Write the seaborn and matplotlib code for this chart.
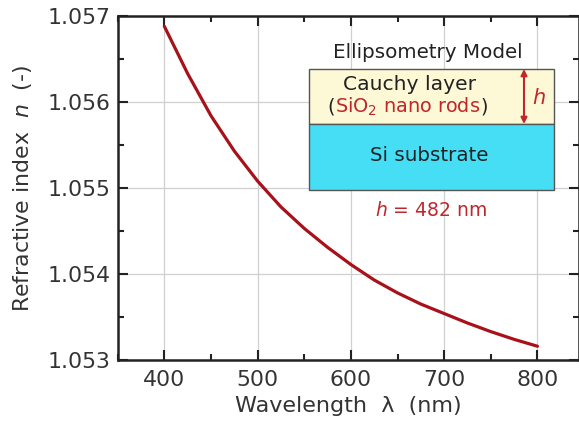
import matplotlib
matplotlib.use('Agg')

import pandas as pd
import seaborn as sns
from matplotlib import pyplot as plt
from matplotlib.patches import Rectangle
from matplotlib.ticker import MultipleLocator, FormatStrFormatter

wavelength = [400, 425, 450, 475, 500, 525, 550, 575, 600, 625, 650, 675, 700, 725, 750, 775, 800]
refr_index = [1.05688, 1.05633, 1.05584, 1.05543, 1.05508, 1.05478, 1.05453, 1.05431, 1.05411,
              1.05393, 1.05378, 1.05365, 1.05354, 1.05343, 1.05333, 1.05324, 1.05316]

RED_LINE = '#a8111a'
RED_TEXT = '#c0272d'
FONT = 'DejaVu Sans'

sns.set_style('ticks')
plt.rcParams['font.family'] = [FONT]
plt.rcParams['mathtext.fontset'] = 'dejavusans'

df = pd.DataFrame({'wl': wavelength, 'n': refr_index})

fig = plt.figure(figsize=(5.79, 4.21), dpi=100)
ax = fig.add_axes([117.7 / 579, 1 - 360 / 421, (578.5 - 117.7) / 579, (360 - 16) / 421])

sns.lineplot(data=df, x='wl', y='n', ax=ax, color=RED_LINE, linewidth=2.3)

ax.set_xlim(350, 844)
ax.set_ylim(1.053, 1.057)
ax.xaxis.set_major_locator(MultipleLocator(100))
ax.xaxis.set_minor_locator(MultipleLocator(50))
ax.yaxis.set_major_locator(MultipleLocator(0.001))
ax.yaxis.set_minor_locator(MultipleLocator(0.0005))
ax.yaxis.set_major_formatter(FormatStrFormatter('%.3f'))
ax.grid(True, which='major', color='#d0d0d0', linewidth=0.9)
ax.tick_params(which='both', direction='in', top=True, right=True, colors='#222222',
               labelcolor='#333333', labelsize=15.8, width=1.5)
ax.tick_params(which='major', length=7, pad=5)
ax.tick_params(axis='x', which='major', pad=7.5)
ax.tick_params(which='minor', length=4)
for s in ax.spines.values():
    s.set_linewidth(1.8)
    s.set_color('#222222')

ax.set_xlabel('Wavelength  λ  (nm)', fontsize=16, color='#333333', labelpad=4)
ax.set_ylabel('Refractive index  $n$  (-)', fontsize=15.8, color='#333333', labelpad=10)


# ellipsometry model inset, placed in axes fraction
def fx(px):
    return (px - 117.7) / (578.5 - 117.7)


def fy(py):
    return (360 - py) / (360 - 16)


tr = ax.transAxes
fs = 14.3
ax.text(fx(428), fy(52), 'Ellipsometry Model', transform=tr, ha='center', va='center',
        fontsize=fs, color='#222222')
ax.add_patch(Rectangle((fx(309), fy(124)), fx(554) - fx(309), fy(69) - fy(124), transform=tr,
                       facecolor='#fdf8d6', edgecolor='#555555', linewidth=1.0, zorder=3))
ax.add_patch(Rectangle((fx(309), fy(190)), fx(554) - fx(309), fy(124) - fy(190), transform=tr,
                       facecolor='#45def5', edgecolor='#555555', linewidth=1.0, zorder=3))
ax.text(fx(410), fy(84), 'Cauchy layer', transform=tr, ha='center', va='center',
        fontsize=14.6, color='#222222', zorder=4)
rods = ax.text(fx(408), fy(113), 'SiO$_2$ nano rods', transform=tr, ha='center', va='baseline',
               fontsize=13.9, color=RED_TEXT, zorder=4)
ax.annotate('(', xy=(0, fy(113)), xycoords=(rods, tr), ha='right', va='baseline',
            fontsize=13.9, color='#222222', zorder=4)
ax.annotate(')', xy=(1, fy(113)), xycoords=(rods, tr), ha='left', va='baseline',
            fontsize=13.9, color='#222222', zorder=4)
ax.annotate('', xy=(fx(524), fy(69)), xytext=(fx(524), fy(124)), xycoords=tr, textcoords=tr,
            arrowprops=dict(arrowstyle='<|-|>', color=RED_TEXT, lw=1.5, mutation_scale=9,
                            shrinkA=0, shrinkB=0), zorder=4)
ax.text(fx(539), fy(98), '$h$', transform=tr, ha='center', va='center', fontsize=15,
        color=RED_TEXT, zorder=4)
ax.text(fx(429), fy(156), 'Si substrate', transform=tr, ha='center', va='center',
        fontsize=fs, color='#222222', zorder=4)
ax.text(fx(431), fy(211), '$h$ = 482 nm', transform=tr, ha='center', va='center',
        fontsize=13.5, color=RED_TEXT, zorder=4)

fig.savefig('out.png', dpi=100)
